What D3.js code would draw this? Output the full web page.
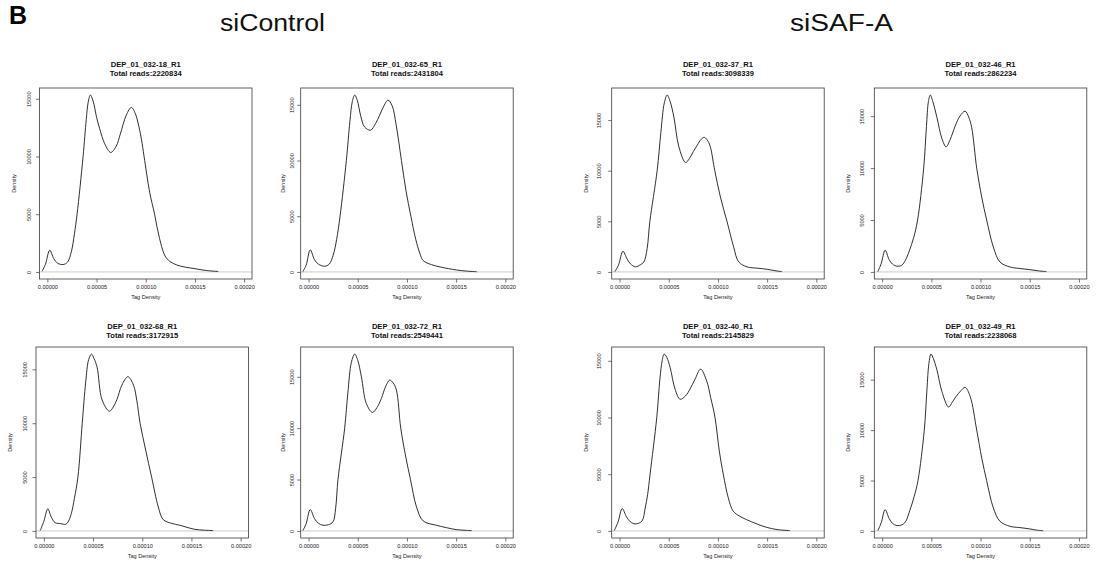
<!DOCTYPE html>
<html>
<head>
<meta charset="utf-8">
<style>
  body { margin: 0; background: white; }
  svg { font-family: 'Liberation Sans', Arial, sans-serif; }
  .box { fill: none; stroke: #3a3a3a; stroke-width: 0.8px; }
  .zero { stroke: #e2e2e2; stroke-width: 1.8px; }
  .curve { fill: none; stroke: #1a1a1a; stroke-width: 0.9px; }
  .tick line { stroke: #3a3a3a; stroke-width: 0.7px; }
  .tick text, .lab { fill: #222; font-size: 5.6px; }
  .ttl { fill: #111; font-size: 7.6px; font-weight: bold; }
</style>
</head>
<body>
<script src="https://d3js.org/d3.v7.min.js"></script>
<div id="chart"></div>
<script>

// groups and samples
var groupLabels = ["siControl", "siSAF-A"];
var sampleNames = ["DEP_01_032-18_R1", "DEP_01_032-65_R1", "DEP_01_032-37_R1", "DEP_01_032-46_R1",
                   "DEP_01_032-68_R1", "DEP_01_032-72_R1", "DEP_01_032-40_R1", "DEP_01_032-49_R1"];
var totalReads = [2220834, 2431804, 3098339, 2862234, 3172915, 2549441, 2145829, 2238068];

var xTicks = [0, 0.00005, 0.0001, 0.00015, 0.0002];
var xTickLabels = ["0.00000", "0.00005", "0.00010", "0.00015", "0.00020"];
var yTicks = [0, 5000, 10000, 15000];

// density curves: [tag density, density]
var dens18 = [[-0.54e-5,50],[-0.2e-5,650],[0.24e-5,1880],[0.65e-5,1150],[1.05e-5,750],[1.6e-5,640],[2.05e-5,850],[2.45e-5,1800],[2.75e-5,3300],[3.02e-5,5000],[3.63e-5,10000],[3.95e-5,13200],[4.15e-5,14700],[4.37e-5,15320],[4.65e-5,14800],[5.0e-5,13400],[5.32e-5,12400],[5.83e-5,11100],[6.44e-5,10350],[7.0e-5,10900],[7.4e-5,11900],[8.03e-5,13600],[8.54e-5,14250],[8.95e-5,13700],[9.22e-5,12900],[9.56e-5,11500],[9.83e-5,10000],[10.4e-5,6900],[10.9e-5,5000],[11.4e-5,2900],[12.1e-5,1200],[13.1e-5,620],[15.0e-5,280],[16.2e-5,120],[17.36e-5,40]];
var dens65 = [[-0.58e-5,30],[-0.25e-5,600],[0.17e-5,1980],[0.6e-5,1100],[1.0e-5,700],[1.63e-5,510],[2.1e-5,700],[2.5e-5,1500],[2.85e-5,2900],[3.2e-5,5000],[3.84e-5,10000],[4.2e-5,13500],[4.45e-5,15300],[4.69e-5,15870],[4.95e-5,15400],[5.3e-5,14000],[5.7e-5,13000],[6.3e-5,12720],[6.8e-5,13300],[7.23e-5,14070],[7.6e-5,14800],[8.08e-5,15420],[8.5e-5,14900],[8.9e-5,13200],[9.44e-5,10000],[9.9e-5,7300],[10.4e-5,5000],[10.9e-5,2900],[11.3e-5,1700],[11.65e-5,1020],[12.5e-5,650],[13.5e-5,420],[15.0e-5,180],[16.0e-5,80],[17.1e-5,20]];
var dens37 = [[-0.47e-5,30],[-0.1e-5,700],[0.34e-5,2040],[0.75e-5,1300],[1.1e-5,800],[1.62e-5,500],[2.1e-5,700],[2.47e-5,990],[2.8e-5,2300],[3.08e-5,5000],[3.82e-5,10000],[4.2e-5,13800],[4.55e-5,16700],[4.84e-5,17470],[5.15e-5,16800],[5.52e-5,15300],[6.02e-5,12400],[6.7e-5,10810],[7.1e-5,11200],[7.5e-5,11900],[7.88e-5,12500],[8.3e-5,13100],[8.63e-5,13290],[9.0e-5,12900],[9.24e-5,12300],[9.68e-5,10000],[10.25e-5,7400],[10.93e-5,4950],[11.6e-5,2450],[12.1e-5,1000],[12.96e-5,500],[14.0e-5,370],[15.0e-5,260],[15.8e-5,120],[16.5e-5,30]];
var dens46 = [[-0.44e-5,30],[-0.1e-5,800],[0.3e-5,2090],[0.7e-5,1200],[1.05e-5,750],[1.52e-5,550],[2.0e-5,650],[2.36e-5,1120],[2.75e-5,2000],[3.2e-5,3300],[3.6e-5,5000],[4.22e-5,10000],[4.5e-5,14000],[4.7e-5,16400],[4.89e-5,17030],[5.15e-5,16400],[5.56e-5,14900],[6.07e-5,12850],[6.5e-5,12050],[6.91e-5,12750],[7.42e-5,14040],[7.9e-5,15000],[8.43e-5,15480],[8.8e-5,14900],[9.1e-5,13900],[9.61e-5,10000],[10.12e-5,7200],[10.62e-5,5000],[11.3e-5,2400],[11.97e-5,960],[12.98e-5,480],[14.0e-5,330],[15.0e-5,220],[15.9e-5,100],[16.7e-5,30]];
var dens68 = [[-0.37e-5,30],[0,900],[0.4e-5,2050],[0.75e-5,1300],[1.14e-5,770],[1.7e-5,680],[2.22e-5,620],[2.5e-5,900],[2.79e-5,1610],[3.1e-5,3000],[3.46e-5,5000],[3.9e-5,10000],[4.25e-5,13800],[4.55e-5,15900],[4.84e-5,16420],[5.1e-5,16000],[5.41e-5,15200],[5.92e-5,12150],[6.66e-5,11120],[7.05e-5,11500],[7.43e-5,12210],[7.93e-5,13540],[8.54e-5,14320],[9.11e-5,13540],[9.44e-5,12150],[9.78e-5,10000],[10.35e-5,7500],[10.96e-5,4960],[11.63e-5,2230],[12.13e-5,1050],[13.0e-5,700],[13.8e-5,530],[15.3e-5,155],[16.3e-5,70],[17.2e-5,30]];
var dens72 = [[-0.58e-5,30],[-0.25e-5,700],[0.17e-5,2080],[0.6e-5,1200],[1.0e-5,750],[1.46e-5,550],[2.0e-5,600],[2.48e-5,880],[2.75e-5,2200],[2.99e-5,5000],[3.67e-5,10000],[4.0e-5,13500],[4.35e-5,16400],[4.69e-5,17210],[5.0e-5,16600],[5.37e-5,15000],[5.87e-5,12400],[6.49e-5,11530],[6.95e-5,12000],[7.4e-5,12890],[7.85e-5,14100],[8.25e-5,14680],[8.6e-5,14400],[8.93e-5,13700],[9.37e-5,10000],[9.88e-5,7200],[10.36e-5,5000],[10.97e-5,2340],[11.65e-5,970],[13.0e-5,550],[14.0e-5,320],[15.0e-5,130],[15.8e-5,70],[16.57e-5,30]];
var dens40 = [[-0.54e-5,30],[-0.15e-5,800],[0.27e-5,1970],[0.7e-5,1250],[1.1e-5,800],[1.59e-5,620],[2.26e-5,850],[2.6e-5,2000],[2.85e-5,3200],[3.1e-5,5000],[3.78e-5,10000],[4.1e-5,13400],[4.33e-5,15000],[4.53e-5,15590],[4.8e-5,15300],[5.14e-5,14410],[5.64e-5,12500],[6.15e-5,11610],[6.7e-5,11900],[7.16e-5,12500],[7.67e-5,13380],[8.24e-5,14260],[8.85e-5,13230],[9.26e-5,11760],[9.7e-5,10000],[10.14e-5,7040],[10.54e-5,5010],[11.05e-5,2920],[11.55e-5,1740],[12.2e-5,1300],[12.9e-5,1000],[14.0e-5,600],[14.93e-5,320],[16.0e-5,120],[17.3e-5,30]];
var dens49 = [[-0.44e-5,30],[-0.1e-5,800],[0.3e-5,2110],[0.7e-5,1250],[1.05e-5,750],[1.52e-5,530],[2.0e-5,600],[2.36e-5,890],[2.8e-5,2000],[3.25e-5,3400],[3.64e-5,5000],[4.28e-5,10000],[4.55e-5,14000],[4.75e-5,16600],[4.96e-5,17540],[5.2e-5,17100],[5.56e-5,15990],[6.07e-5,13840],[6.75e-5,12290],[7.15e-5,12800],[7.52e-5,13350],[8.0e-5,13900],[8.43e-5,14240],[8.94e-5,13350],[9.61e-5,10000],[10.12e-5,7230],[10.62e-5,4990],[11.3e-5,2280],[11.97e-5,960],[12.98e-5,460],[14.0e-5,330],[15.0e-5,200],[15.7e-5,80],[16.36e-5,20]];

var curves = [dens18, dens65, dens37, dens46, dens68, dens72, dens40, dens49];

// panel frames (plot box in page pixels)
var boxLeft = [[39.5, 300.7, 611.7, 874.3], [36, 300.7, 611.7, 874.3]];
var boxTop = [88, 347], boxBottom = [279, 538], boxWidth = 212.5;
var tickLabOff = [11, 8.5, 12.4, 12], yLabOff = [26, 17.5, 26, 26];

var svg = d3.select("#chart").append("svg")
    .attr("width", 1098)
    .attr("height", 570);

svg.append("text").attr("x", 9).attr("y", 24)
    .style("font-size", "25px").style("font-weight", "bold").text("B");

svg.selectAll(".grp").data(groupLabels).enter().append("text")
    .attr("class", "grp")
    .attr("x", function(d, i) { return i == 0 ? 220 : 790; })
    .attr("y", 31)
    .attr("textLength", function(d, i) { return i == 0 ? 105 : 103; })
    .attr("lengthAdjust", "spacingAndGlyphs")
    .style("font-size", "23px").style("fill", "#111")
    .text(function(d) { return d; });

curves.forEach(function(data, k) {
  var row = Math.floor(k / 4), col = k % 4;
  var x0 = boxLeft[row][col], x1 = x0 + boxWidth;
  var y0 = boxTop[row], y1 = boxBottom[row];
  var g = svg.append("g");

  // R style: xlim c(0, 0.0002) and ylim range(0, max), both padded 4%
  var x = d3.scaleLinear().domain([-0.000008, 0.000208]).range([x0, x1]);
  var maxD = d3.max(data, function(d) { return d[1]; });
  var y = d3.scaleLinear().domain([-0.04 * maxD, 1.04 * maxD]).range([y1, y0]);

  g.append("line").attr("class", "zero")
    .attr("x1", x0).attr("x2", x1).attr("y1", y(0)).attr("y2", y(0));

  g.append("path").datum(data).attr("class", "curve")
    .attr("d", d3.line()
      .x(function(d) { return x(d[0]); })
      .y(function(d) { return y(d[1]); })
      .curve(d3.curveCatmullRom.alpha(0.5)));

  g.append("rect").attr("class", "box")
    .attr("x", x0).attr("y", y0).attr("width", x1 - x0).attr("height", y1 - y0);

  var xa = g.append("g").attr("transform", "translate(0," + y1 + ")")
    .call(d3.axisBottom(x).tickValues(xTicks).tickSize(3.5).tickPadding(3)
      .tickFormat(function(d, i) { return xTickLabels[i]; }));
  xa.select(".domain").remove();
  xa.selectAll("text").attr("font-size", null).attr("font-family", null);

  var ya = g.append("g").attr("transform", "translate(" + x0 + ",0)")
    .call(d3.axisLeft(y).tickValues(yTicks).tickSize(3.5).tickFormat(d3.format("d")));
  ya.select(".domain").remove();
  ya.selectAll("text").attr("font-size", null).attr("font-family", null)
    .attr("x", null).attr("dy", null)
    .attr("text-anchor", "middle")
    .attr("transform", "translate(" + (-tickLabOff[col] + 2) + ",0) rotate(-90)");

  g.append("text").attr("class", "lab")
    .attr("text-anchor", "middle")
    .attr("x", (x0 + x1) / 2).attr("y", y1 + 20)
    .text("Tag Density");

  g.append("text").attr("class", "lab")
    .attr("text-anchor", "middle")
    .attr("transform", "translate(" + (x0 - yLabOff[col] + 2) + "," + ((y0 + y1) / 2) + ") rotate(-90)")
    .text("Density");

  var tTop = row == 0 ? y0 - 21 : y0 - 18;
  g.append("text").attr("class", "ttl").attr("text-anchor", "middle")
    .attr("x", (x0 + x1) / 2).attr("y", tTop).text(sampleNames[k]);
  g.append("text").attr("class", "ttl").attr("text-anchor", "middle")
    .attr("x", (x0 + x1) / 2).attr("y", tTop + 9).text("Total reads:" + totalReads[k]);
});

</script>
</body>
</html>
